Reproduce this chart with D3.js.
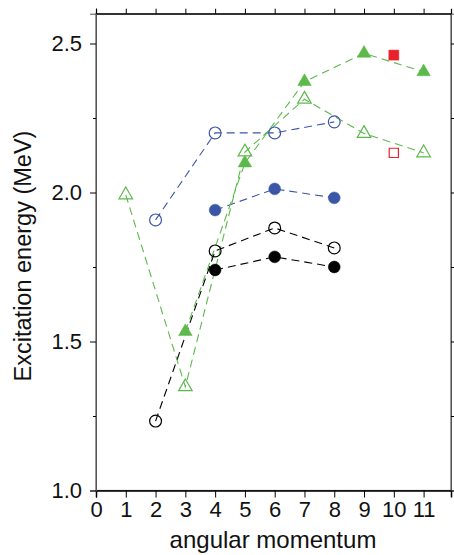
<!DOCTYPE html>
<html>
<head>
<meta charset="utf-8">
<script src="https://cdn.jsdelivr.net/npm/d3@7"></script>
<style>
  body { margin: 0; background: #fff; }
  svg text { font-family: "Liberation Sans", Arial, sans-serif; }
</style>
</head>
<body>
<script>
'use strict';

// angular momentum values and excitation energies (MeV)
const xTicks = [0, 1, 2, 3, 4, 5, 6, 7, 8, 9, 10, 11];
const yTicks = [1.0, 1.5, 2.0, 2.5];
const yMinor = [1.25, 1.75, 2.25];

const blueOpenX = [2, 4, 6, 8];
const blueOpenY = [1.908, 2.200, 2.200, 2.237];
const blueFillX = [4, 6, 8];
const blueFillY = [1.941, 2.012, 1.982];

const blackOpenX = [2, 4, 6, 8];
const blackOpenY = [1.233, 1.804, 1.881, 1.814];
const blackFillX = [4, 6, 8];
const blackFillY = [1.740, 1.784, 1.750];

const greenOpenX = [1, 3, 5, 7, 9, 11];
const greenOpenY = [1.992, 1.348, 2.136, 2.313, 2.198, 2.133];
const greenFillX = [3, 5, 7, 9, 11];
const greenFillY = [1.533, 2.099, 2.372, 2.467, 2.405];

const redOpenX = [10];
const redOpenY = [2.133];
const redFillX = [10];
const redFillY = [2.461];

const BLUE = "#3b56a6", GREEN = "#5cb94b", RED = "#e8212a", BLACK = "#000";

let svg = d3.select('body').append('svg')
  .attr('width', 454)
  .attr('height', 555);

let xScale = d3.scaleLinear().domain([0, 11.92]).range([96, 451]);
let yScale = d3.scaleLinear().domain([1.0, 2.6]).range([490.5, 13.7]);

function zip(xs, ys) { return xs.map((x, i) => [x, ys[i]]); }

// frame
svg.append('rect')
  .attr('x', xScale(0)).attr('y', yScale(2.6))
  .attr('width', xScale(11.92) - xScale(0))
  .attr('height', yScale(1.0) - yScale(2.6))
  .attr('fill', 'none').attr('stroke', '#555').attr('stroke-width', 1.2);

// axes
svg.append('g')
  .attr('transform', 'translate(0,' + yScale(1.0) + ')')
  .call(d3.axisBottom(xScale).tickValues(xTicks).tickSize(7).tickPadding(4).tickFormat(d3.format('d')))
  .call(g => g.select('.domain').attr('stroke', '#000').attr('stroke-width', 1.5))
  .call(g => g.selectAll('text').style('font-size', '22px').attr('fill', '#111'));

svg.append('g')
  .attr('transform', 'translate(0,' + yScale(2.6) + ')')
  .call(d3.axisTop(xScale).tickValues(xTicks).tickSize(5).tickFormat(''))
  .call(g => g.select('.domain').attr('stroke', '#000').attr('stroke-width', 1.2));

svg.append('g')
  .attr('transform', 'translate(' + xScale(0) + ',0)')
  .call(d3.axisLeft(yScale).tickValues(yTicks).tickSize(6).tickPadding(8).tickFormat(d3.format('.1f')))
  .call(g => g.select('.domain').attr('stroke', '#555'))
  .call(g => g.selectAll('text').style('font-size', '22px').attr('fill', '#111'));

svg.append('g')
  .attr('transform', 'translate(' + xScale(0) + ',0)')
  .call(d3.axisLeft(yScale).tickValues(yMinor).tickSize(3).tickFormat(''))
  .call(g => g.select('.domain').remove());

svg.append('g')
  .attr('transform', 'translate(' + xScale(11.92) + ',0)')
  .call(d3.axisRight(yScale).tickValues(yTicks.concat(yMinor)).tickSize(5).tickFormat(''))
  .call(g => g.select('.domain').attr('stroke', '#555'));

// dashed connecting lines
let line = d3.line().x(d => xScale(d[0])).y(d => yScale(d[1]));
function dashed(xs, ys, color) {
  svg.append('path')
    .datum(zip(xs, ys))
    .attr('d', line)
    .attr('fill', 'none')
    .attr('stroke', color)
    .attr('stroke-width', 1.1)
    .attr('stroke-dasharray', '8,5');
}
dashed(blueOpenX, blueOpenY, BLUE);
dashed(blueFillX, blueFillY, BLUE);
dashed(blackOpenX, blackOpenY, BLACK);
dashed(blackFillX, blackFillY, BLACK);
dashed(greenOpenX, greenOpenY, GREEN);
dashed(greenFillX, greenFillY, GREEN);

// markers
function markers(xs, ys, type, size, color, filled) {
  svg.append('g').selectAll('path')
    .data(zip(xs, ys))
    .enter()
    .append('path')
    .attr('transform', d => 'translate(' + xScale(d[0]) + ',' + yScale(d[1]) + ')')
    .attr('d', d3.symbol().type(type).size(size))
    .attr('fill', filled ? color : 'none')
    .attr('stroke', color)
    .attr('stroke-width', filled ? 0.5 : 1.2);
}
markers(blueOpenX, blueOpenY, d3.symbolCircle, 110, BLUE, false);
markers(blueFillX, blueFillY, d3.symbolCircle, 110, BLUE, true);
markers(blackOpenX, blackOpenY, d3.symbolCircle, 110, BLACK, false);
markers(blackFillX, blackFillY, d3.symbolCircle, 110, BLACK, true);
markers(greenOpenX, greenOpenY, d3.symbolTriangle, 80, GREEN, false);
markers(greenFillX, greenFillY, d3.symbolTriangle, 80, GREEN, true);
markers(redOpenX, redOpenY, d3.symbolSquare, 85, RED, false);
markers(redFillX, redFillY, d3.symbolSquare, 100, RED, true);

// axis titles
svg.append('text')
  .attr('x', 273).attr('y', 548)
  .attr('text-anchor', 'middle')
  .style('font-size', '24px')
  .attr('fill', '#111')
  .text('angular momentum');

svg.append('text')
  .attr('transform', 'translate(31,256)rotate(-90)')
  .attr('text-anchor', 'middle')
  .style('font-size', '23.5px')
  .attr('fill', '#111')
  .text('Excitation energy (MeV)');
</script>
</body>
</html>
